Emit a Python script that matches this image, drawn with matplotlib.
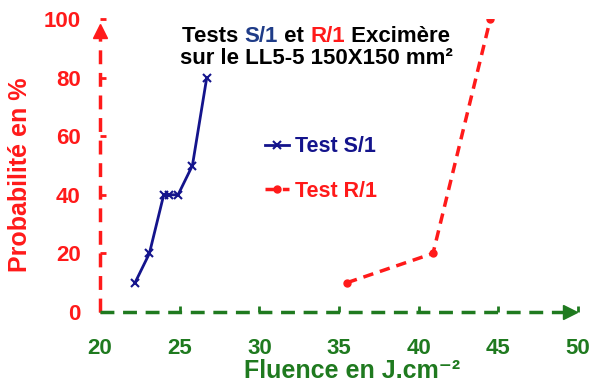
import matplotlib.pyplot as plt

plt.rcParams['font.family'] = ['Liberation Sans', 'DejaVu Sans']
plt.rcParams['font.weight'] = 'bold'

# data
s1_fluence = [22.2, 23.1, 24.0, 24.3, 24.9, 25.8, 26.7]
s1_prob = [10, 20, 40, 40, 40, 50, 80]
r1_fluence = [35.5, 40.9, 44.5]
r1_prob = [10, 20, 100]

x_ticks = [20, 25, 30, 35, 40, 45, 50]
y_ticks = [0, 20, 40, 60, 80, 100]

RED = '#ff1a1a'
NAVY = '#14148c'
GREEN = '#1f7a1f'
TITLE_BLUE = '#1f3c88'

fig = plt.figure(figsize=(5.9, 3.88), dpi=100)
ax = fig.add_axes([100 / 590, 1 - 312 / 388, 478 / 590, 293 / 388])

ax.plot(s1_fluence, s1_prob, color=NAVY, lw=2, marker='x', ms=6, mew=1.5, label='Test S/1')
ax.plot(r1_fluence, r1_prob, color=RED, lw=2.5, ls=(0, (3, 2)), marker='o', ms=5, label='Test R/1')

ax.set_xlim(20, 50)
ax.set_ylim(0, 100)
for s in ax.spines.values():
    s.set_visible(False)

# dashed axes with arrow heads
ax.plot([20, 20], [0, 95], color=RED, lw=2.5, ls=(0, (4, 2.5)), clip_on=False)
ax.plot([20], [96], marker='^', ms=10, color=RED, clip_on=False)
ax.plot([20, 49.3], [0, 0], color=GREEN, lw=2.5, ls=(0, (4, 2.5)), clip_on=False)
ax.plot([49.5], [0], marker='>', ms=10, color=GREEN, clip_on=False)

ax.set_xticks(x_ticks)
ax.set_yticks(y_ticks)
ax.tick_params(axis='x', colors=GREEN, labelsize=16, direction='in', length=4, width=2, pad=19)
ax.tick_params(axis='y', colors=RED, labelsize=16, direction='in', length=4, width=2, pad=14)
for lbl in ax.get_xticklabels() + ax.get_yticklabels():
    lbl.set_fontweight('bold')

ax.set_xlabel('Fluence en J.cm⁻²', color=GREEN, fontsize=18, fontweight='bold')
ax.set_ylabel('Probabilité en %', color=RED, fontsize=18, fontweight='bold')
ax.xaxis.set_label_coords(0.527, -0.16)
ax.yaxis.set_label_coords(-0.143, 0.47)

leg = ax.legend(loc='upper left', bbox_to_anchor=(0.345, 0.6), frameon=False,
                fontsize=15.5, labelcolor='linecolor', handlelength=1.1, handletextpad=0.3,
                labelspacing=1.1, borderpad=0, borderaxespad=0)
for t in leg.get_texts():
    t.set_fontweight('bold')

# multi-coloured title
fig.canvas.draw()
renderer = fig.canvas.get_renderer()


def colored_line(parts, y, xc):
    texts = []
    x = 0
    for txt, col in parts:
        t = fig.text(x, y, txt, color=col, fontsize=16, fontweight='bold', va='center', ha='left')
        texts.append(t)
        x += t.get_window_extent(renderer).width / fig.bbox.width
    x = xc - x / 2
    for t in texts:
        t.set_x(x)
        x += t.get_window_extent(renderer).width / fig.bbox.width


colored_line([('Tests ', 'black'), ('S/1', TITLE_BLUE), (' et ', 'black'),
              ('R/1', RED), (' Excimère', 'black')], 1 - 37 / 388, 316 / 590)
colored_line([('sur le LL5-5 150X150 mm²', 'black')], 1 - 59 / 388, 316 / 590)

fig.savefig('out.png', dpi=100)
